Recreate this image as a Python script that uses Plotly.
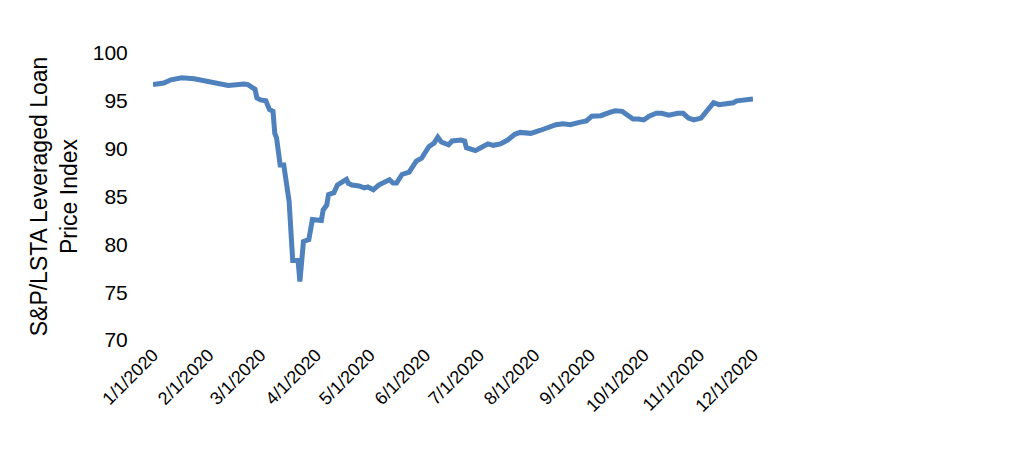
import plotly.graph_objects as go

# S&P/LSTA Leveraged Loan Price Index, 2020
dates = [
    "2020-01-01", "2020-01-07", "2020-01-11", "2020-01-17", "2020-01-24", "2020-01-30",
    "2020-02-06", "2020-02-12", "2020-02-21", "2020-02-23", "2020-02-27", "2020-02-28",
    "2020-03-01", "2020-03-04", "2020-03-06", "2020-03-08", "2020-03-09", "2020-03-10",
    "2020-03-12", "2020-03-14", "2020-03-17", "2020-03-18", "2020-03-19", "2020-03-22",
    "2020-03-23", "2020-03-25", "2020-03-28", "2020-03-30", "2020-04-02", "2020-04-04",
    "2020-04-05", "2020-04-07", "2020-04-08", "2020-04-11", "2020-04-13", "2020-04-16",
    "2020-04-18", "2020-04-19", "2020-04-21", "2020-04-25", "2020-04-28", "2020-04-30",
    "2020-05-03", "2020-05-06", "2020-05-09", "2020-05-12", "2020-05-14", "2020-05-16",
    "2020-05-19", "2020-05-23", "2020-05-27", "2020-05-30", "2020-06-03", "2020-06-06",
    "2020-06-08", "2020-06-10", "2020-06-14", "2020-06-16", "2020-06-21", "2020-06-23",
    "2020-06-24", "2020-06-29", "2020-07-02", "2020-07-06", "2020-07-09", "2020-07-13",
    "2020-07-17", "2020-07-21", "2020-07-24", "2020-07-30", "2020-08-04", "2020-08-08",
    "2020-08-13", "2020-08-17", "2020-08-21", "2020-08-26", "2020-08-30", "2020-09-02",
    "2020-09-07", "2020-09-12", "2020-09-15", "2020-09-19", "2020-09-22", "2020-09-25",
    "2020-09-28", "2020-10-01", "2020-10-04", "2020-10-08", "2020-10-11", "2020-10-15",
    "2020-10-20", "2020-10-23", "2020-10-26", "2020-10-29", "2020-11-02", "2020-11-04",
    "2020-11-06", "2020-11-09", "2020-11-12", "2020-11-17", "2020-11-20", "2020-11-22",
    "2020-11-26", "2020-12-01",
]
price_index = [
    96.7, 96.86, 97.2, 97.4, 97.3, 97.1,
    96.75, 96.6, 96.75, 96.7, 96.2, 95.3,
    95.1, 95.0, 94.1, 93.9, 91.6, 91.1,
    88.3, 88.3, 84.5, 81.0, 78.3, 78.3,
    76.1, 80.3, 80.5, 82.6, 82.5, 82.5,
    83.6, 84.1, 85.2, 85.4, 86.2, 86.6,
    86.8, 86.4, 86.2, 86.1, 85.9, 86.0,
    85.7, 86.2, 86.5, 86.75, 86.4, 86.4,
    87.3, 87.55, 88.7, 89.0, 90.2, 90.6,
    91.2, 90.7, 90.4, 90.8, 90.9, 90.8,
    90.1, 89.8, 90.1, 90.5, 90.35, 90.5,
    90.9, 91.5, 91.7, 91.6, 91.9, 92.15,
    92.5, 92.6, 92.5, 92.75, 92.9, 93.4,
    93.45, 93.8, 93.95, 93.9, 93.5, 93.1,
    93.1, 93.0, 93.4, 93.7, 93.7, 93.5,
    93.7, 93.7, 93.2, 93.0, 93.2, 93.7,
    94.1, 94.8, 94.6, 94.65, 94.8, 95.0,
    95.05, 95.2,
]

tick_dates = [
    "2020-01-01", "2020-02-01", "2020-03-01", "2020-04-01", "2020-05-01", "2020-06-01",
    "2020-07-01", "2020-08-01", "2020-09-01", "2020-10-01", "2020-11-01", "2020-12-01",
]
tick_labels = [
    "1/1/2020", "2/1/2020", "3/1/2020", "4/1/2020", "5/1/2020", "6/1/2020",
    "7/1/2020", "8/1/2020", "9/1/2020", "10/1/2020", "11/1/2020", "12/1/2020",
]
y_ticks = [70, 75, 80, 85, 90, 95, 100]

fig = go.Figure()
fig.add_trace(
    go.Scatter(
        x=dates,
        y=price_index,
        mode="lines",
        line=dict(color="#4F81BD", width=5),
        showlegend=False,
    )
)

fig.update_layout(
    width=1024,
    height=475,
    plot_bgcolor="white",
    paper_bgcolor="white",
    font=dict(family="Liberation Sans, Arial, sans-serif", color="#000000"),
    margin=dict(l=145, r=279, t=45, b=143),
    xaxis=dict(
        range=["2020-01-01", "2020-12-01"],
        tickvals=tick_dates,
        ticktext=tick_labels,
        tickangle=-45,
        tickfont=dict(size=18),
        showgrid=False,
        showline=False,
        zeroline=False,
        ticks="",
    ),
    yaxis=dict(
        title=dict(text="S&P/LSTA Leveraged Loan<br>Price Index", font=dict(size=23), standoff=8),
        range=[70, 100],
        tickvals=y_ticks,
        tickfont=dict(size=21),
        showgrid=False,
        showline=False,
        zeroline=False,
        ticks="outside",
        ticklen=20,
        tickcolor="white",
    ),
)

fig.write_html("out.html")
